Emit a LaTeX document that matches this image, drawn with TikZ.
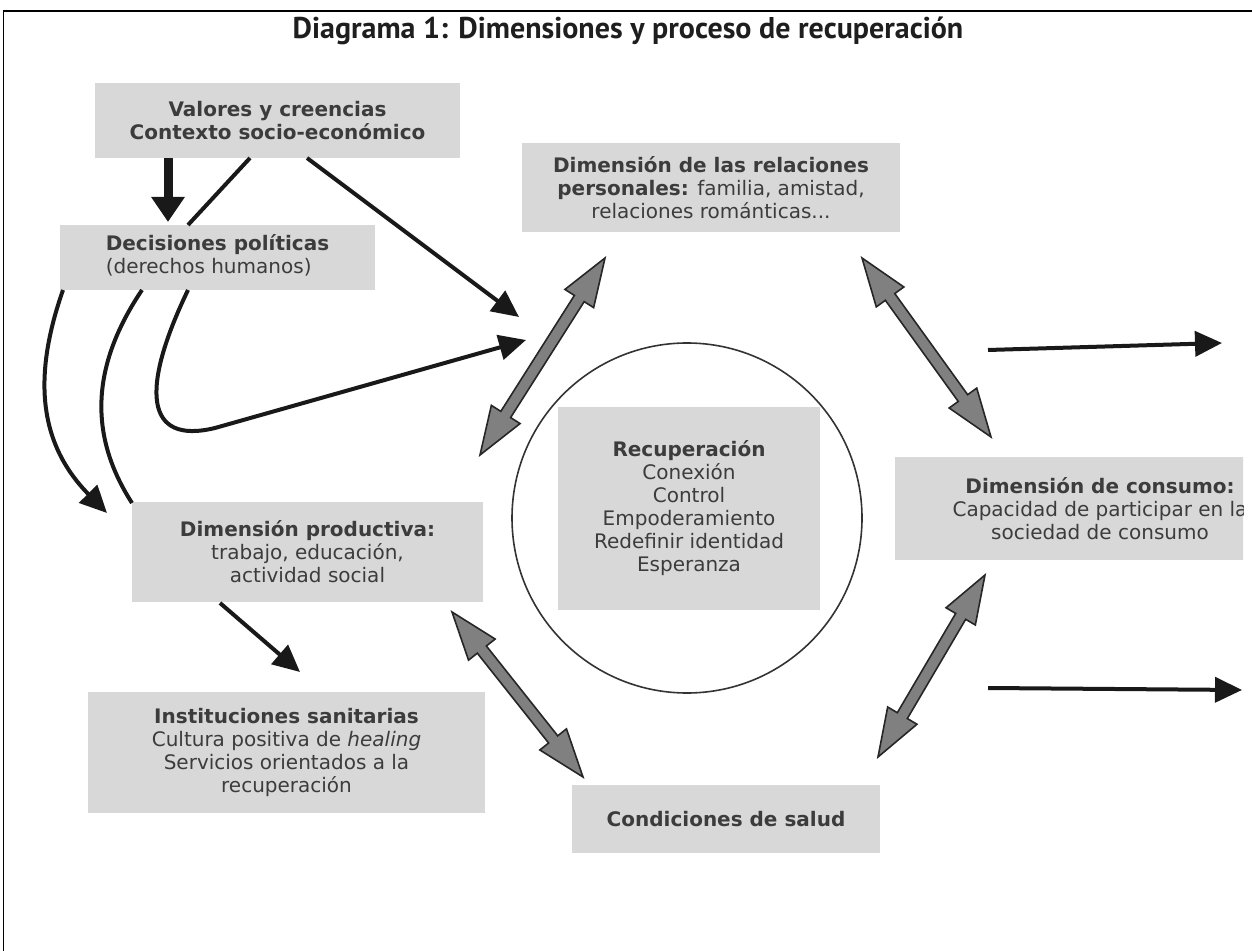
\documentclass[tikz,border=0pt]{standalone}
\usepackage{fontspec}
\setmainfont{DejaVu Sans}
\newfontfamily\titlefont{PT Sans}
\usetikzlibrary{calc,arrows.meta}
\definecolor{boxgray}{RGB}{216,216,216}
\definecolor{arrowgray}{RGB}{128,128,128}
\definecolor{textdark}{RGB}{60,60,60}
\definecolor{titlecol}{RGB}{30,30,30}

% wide grey two-headed arrow between two coordinates
\newcommand\fatdouble[2]{%
  \filldraw[fatarrow] (#1)
    -- ($(#1)!24pt!(#2)!8.5pt!90:(#2)$)
    -- ($(#1)!24pt!(#2)!2.9pt!90:(#2)$)
    -- ($(#2)!24pt!(#1)!2.9pt!-90:(#1)$)
    -- ($(#2)!24pt!(#1)!8.5pt!-90:(#1)$)
    -- (#2)
    -- ($(#2)!24pt!(#1)!8.5pt!90:(#1)$)
    -- ($(#2)!24pt!(#1)!2.9pt!90:(#1)$)
    -- ($(#1)!24pt!(#2)!2.9pt!-90:(#2)$)
    -- ($(#1)!24pt!(#2)!8.5pt!-90:(#2)$)
    -- cycle;}

\begin{document}
\begin{tikzpicture}[x=0.5pt,y=-0.5pt,
  box/.style={fill=boxgray, inner sep=0pt, align=center, text=textdark,
              font=\fontsize{10}{11.5}\selectfont},
  blackarrow/.style={draw=black!90, line width=2pt,
              -{Triangle[length=13.5pt,width=12.5pt]}},
  bigarrow/.style={draw=black!90, line width=4.5pt,
              -{Triangle[length=12.5pt,width=16pt]}},
  plainline/.style={draw=black!90, line width=2pt},
  fatarrow/.style={fill=arrowgray, draw=black!85, line width=0.8pt, line join=miter}]

\useasboundingbox (0,0) rectangle (1252,951);

% frame
\draw[line width=1pt] (3,11) -- (1252,11);
\draw[line width=0.5pt] (3,11) -- (3,951);

% title
\node[text=titlecol, font=\titlefont\bfseries\fontsize{15}{17}\selectfont] (title) at (628,31)
  {Diagrama 1: Dimensiones y proceso de recuperación};

% central circle
\node[circle, draw=black!80, line width=0.8pt, minimum size=175pt, inner sep=0pt] (circ) at (687,518) {};

% boxes
\node[box, minimum width=182.5pt, minimum height=37.5pt] (val) at (277.5,120.5)
  {\textbf{Valores y creencias}\\\textbf{Contexto socio-económico}};
\node[box, minimum width=157.5pt, minimum height=32.5pt] (dec) at (217.5,257.5)
  {\begin{tabular}{@{}l@{}}\textbf{Decisiones políticas}\\(derechos humanos)\end{tabular}};
\node[box, minimum width=189pt, minimum height=44.5pt] (rel) at (711,187.5)
  {\textbf{Dimensión de las relaciones}\\\textbf{personales:} familia, amistad,\\relaciones románticas...};
\node[box, minimum width=131pt, minimum height=101.5pt] (rec) at (689,508.5)
  {\textbf{Recuperación}\\Conexión\\Control\\Empoderamiento\\Redefinir identidad\\Esperanza};
\begin{scope}
  \clip (0,0) rectangle (1243,951);
  \node[box, minimum width=205pt, minimum height=51.5pt] (con) at (1100,508.5)
    {\textbf{Dimensión de consumo:}\\Capacidad de participar en la\\sociedad de consumo};
\end{scope}
\node[box, minimum width=175.5pt, minimum height=50pt] (prod) at (307.5,552)
  {\textbf{Dimensión productiva:}\\trabajo, educación,\\actividad social};
\node[box, minimum width=198.5pt, minimum height=60.5pt] (inst) at (286.5,752.5)
  {\textbf{Instituciones sanitarias}\\Cultura positiva de \textit{healing}\\Servicios orientados a la\\recuperación};
\node[box, minimum width=154pt, minimum height=34pt] (cond) at (726,819)
  {\textbf{Condiciones de salud}};

% end points of the connectors
\coordinate (vd1) at (168,158);  \coordinate (vd2) at (168,222);
\coordinate (vl1) at (250,158);  \coordinate (vl2) at (188,225);
\coordinate (vr1) at (307,158);  \coordinate (vr2) at (519,317);
\coordinate (c1a) at (63,290);   \coordinate (c1b) at (107,513);
\coordinate (c2a) at (142,290);  \coordinate (c2b) at (132,503);
\coordinate (c3a) at (188,290);  \coordinate (c3m) at (215,428);  \coordinate (c3b) at (526,340);
\coordinate (pi1) at (220,603);  \coordinate (pi2) at (300,672);
\coordinate (r1a) at (988,350);  \coordinate (r1b) at (1222,343);
\coordinate (r2a) at (988,688);  \coordinate (r2b) at (1242,690);
\coordinate (g1a) at (605,258);  \coordinate (g1b) at (480,455);
\coordinate (g2a) at (862,258);  \coordinate (g2b) at (991,437);
\coordinate (g3a) at (985,575);  \coordinate (g3b) at (878,757);
\coordinate (g4a) at (452,612);  \coordinate (g4b) at (583,777);

% black connectors
\draw[bigarrow] (vd1) -- (vd2);
\draw[plainline] (vl1) -- (vl2);
\draw[blackarrow] (vr1) -- (vr2);
\draw[blackarrow] (c1a) .. controls (35,370) and (35,440) .. (c1b);
\draw[plainline] (c2a) .. controls (95,360) and (85,430) .. (c2b);
\draw[blackarrow] (c3a) .. controls (140,390) and (145,445) .. (c3m) -- (c3b);
\draw[blackarrow] (pi1) -- (pi2);
\draw[blackarrow] (r1a) -- (r1b);
\draw[blackarrow] (r2a) -- (r2b);

% grey two-way links around the circle
\fatdouble{g1a}{g1b}
\fatdouble{g2a}{g2b}
\fatdouble{g3a}{g3b}
\fatdouble{g4a}{g4b}
\end{tikzpicture}
\end{document}
